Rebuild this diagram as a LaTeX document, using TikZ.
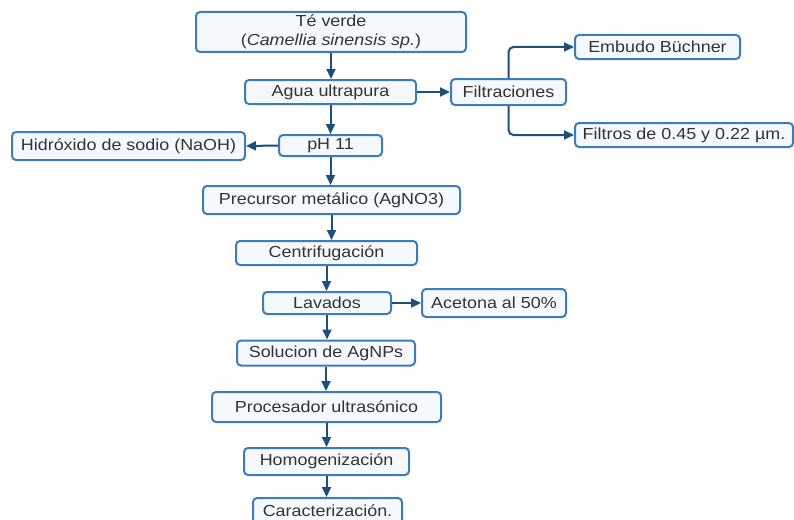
\documentclass[tikz,border=0pt]{standalone}
\usepackage{fontspec}
\setmainfont{Liberation Sans}[FakeStretch=1.12]
\usetikzlibrary{arrows.meta}
\definecolor{boxline}{HTML}{3E7CB8}
\definecolor{boxfill}{HTML}{F5F9FD}
\definecolor{arrowc}{HTML}{1F4E79}
\definecolor{txt}{HTML}{333333}
\tikzset{
  box/.style={draw=boxline, fill=boxfill, line width=2pt, rounded corners=4pt,
    text=txt, inner sep=0pt, align=center, font=\fontsize{16}{19}\selectfont},
  conn/.style={draw=arrowc, line width=2pt, -{Triangle[length=10pt,width=9pt]}}
}
\begin{document}
\begin{tikzpicture}[x=1pt,y=-1pt]
\clip (0,0) rectangle (794,519);
\fill[white] (0,0) rectangle (794,519);
\node[box, minimum width=270pt, minimum height=40pt] (te) at (331,32) {Té verde\\(\textit{Camellia sinensis sp.})};
\node[box, minimum width=171pt, minimum height=24pt] (agua) at (330.5,92) {Agua ultrapura};
\node[box, minimum width=115pt, minimum height=26pt] (filt) at (508.5,92) {Filtraciones};
\node[box, minimum width=165pt, minimum height=24pt] (embudo) at (657.5,47) {Embudo Büchner};
\node[box, minimum width=218pt, minimum height=24pt] (filtros) at (684,135) {Filtros de 0.45 y 0.22 µm.};
\node[box, minimum width=233pt, minimum height=28pt] (naoh) at (128.5,146) {Hidróxido de sodio (NaOH)};
\node[box, minimum width=103pt, minimum height=21pt] (ph) at (330.5,145.5) {pH 11};
\node[box, minimum width=257pt, minimum height=28pt] (prec) at (331.5,200) {Precursor metálico (AgNO3)};
\node[box, minimum width=181pt, minimum height=24pt] (centri) at (326.5,253) {Centrifugación};
\node[box, minimum width=128pt, minimum height=22pt] (lav) at (327,303) {Lavados};
\node[box, minimum width=144pt, minimum height=28pt] (acet) at (494,303) {Acetona al 50\%};
\node[box, minimum width=178pt, minimum height=25pt] (sol) at (326,353) {Solucion de AgNPs};
\node[box, minimum width=229pt, minimum height=30pt] (proc) at (326.5,407) {Procesador ultrasónico};
\node[box, minimum width=165pt, minimum height=27pt] (homo) at (326.5,461.5) {Homogenización};
\node[box, minimum width=149pt, minimum height=26pt] (carac) at (327.5,511) {Caracterización.};
\draw[conn] (te.south) -- (te.south |- agua.north);
\draw[conn] (agua.east) -- (filt.west);
\draw[conn, rounded corners=5pt] (filt.north) |- (embudo.west);
\draw[conn, rounded corners=5pt] (filt.south) |- (filtros.west);
\draw[conn] (agua.south) -- (agua.south |- ph.north);
\draw[conn] (ph.west) -- (naoh.east);
\draw[conn] (ph.south) -- (ph.south |- prec.north);
\draw[conn] (prec.south) -- (prec.south |- centri.north);
\draw[conn] (centri.south) -- (centri.south |- lav.north);
\draw[conn] (lav.east) -- (acet.west);
\draw[conn] (lav.south) -- (lav.south |- sol.north);
\draw[conn] (sol.south) -- (sol.south |- proc.north);
\draw[conn] (proc.south) -- (proc.south |- homo.north);
\draw[conn] (homo.south) -- (homo.south |- carac.north);
\end{tikzpicture}
\end{document}
